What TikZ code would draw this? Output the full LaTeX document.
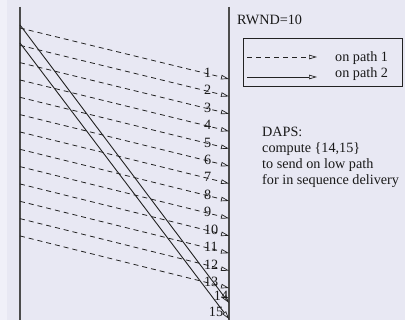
\documentclass[tikz,border=0pt]{standalone}
\usepackage{fontspec}
\setmainfont{Liberation Serif}
\usetikzlibrary{arrows.meta}
\definecolor{bgcol}{HTML}{E8E8F3}
\definecolor{bgleft}{HTML}{F0F0F8}
\definecolor{ink}{HTML}{222222}
\tikzset{
  tip/.style={-{Triangle[open,length=8pt,width=4.5pt,line width=0.7pt]}},
  dashline/.style={draw=ink,line width=0.8pt,dash pattern=on 5pt off 4pt,tip},
  solidline/.style={draw=ink,line width=0.9pt,tip},
  axis/.style={draw=black!70,line width=1.4pt},
  lbl/.style={font=\fontsize{14.2}{16}\selectfont,text=black!90,inner sep=0pt},
  num/.style={lbl,anchor=west}
}
\begin{document}
\begin{tikzpicture}[x=1pt,y=-1pt]
\fill[bgcol] (0,0) rectangle (405,320);
\fill[bgleft] (0,0) rectangle (7,320);
\useasboundingbox (0,0) rectangle (405,320);
% vertical time lines
\coordinate (Ltop) at (20,7); \coordinate (Lbot) at (20,320);
\coordinate (Rtop) at (229,7); \coordinate (Rbot) at (229,320);
\draw[axis] (Ltop) -- (Lbot);
\draw[axis] (Rtop) -- (Rbot);
% path 1 packets
\foreach \i in {1,...,13}{
  \coordinate (s\i) at (20,{28+17.33*(\i-1)});
  \coordinate (e\i) at (229,{79+17.42*(\i-1)});
  \draw[dashline] (s\i) -- (e\i);
  \path (s\i) -- (e\i) node[num,pos=0.88] (n\i) {\i};
}
% path 2 packets
\coordinate (s14) at (20,25); \coordinate (e14) at (229,303);
\coordinate (s15) at (20,43); \coordinate (e15) at (229,319);
\draw[solidline] (s14) -- (e14);
\draw[solidline] (s15) -- (e15);
\node[lbl] (n14) at (221,296) {14};
\node[lbl] (n15) at (216,312) {15};
% right side texts
\node[lbl,anchor=base west] (rwnd) at (237,25) {RWND=10};
\node[draw=ink,line width=0.8pt,minimum width=159pt,minimum height=48pt,anchor=north west,inner sep=0pt] (legend) at (243,38) {};
\coordinate (l1a) at (247,57); \coordinate (l1b) at (317,57);
\coordinate (l2a) at (247,77); \coordinate (l2b) at (317,77);
\draw[dashline] (l1a) -- (l1b);
\draw[solidline] (l2a) -- (l2b);
\node[lbl,anchor=base west] (p1) at (335,62) {on path 1};
\node[lbl,anchor=base west] (p2) at (335,78) {on path 2};
\node[lbl,anchor=base west] (d1) at (262,137) {DAPS:};
\node[lbl,anchor=base west] (d2) at (262,153) {compute \{14,15\}};
\node[lbl,anchor=base west] (d3) at (262,169) {to send on low path};
\node[lbl,anchor=base west] (d4) at (262,185) {for in sequence delivery};
\end{tikzpicture}
\end{document}
